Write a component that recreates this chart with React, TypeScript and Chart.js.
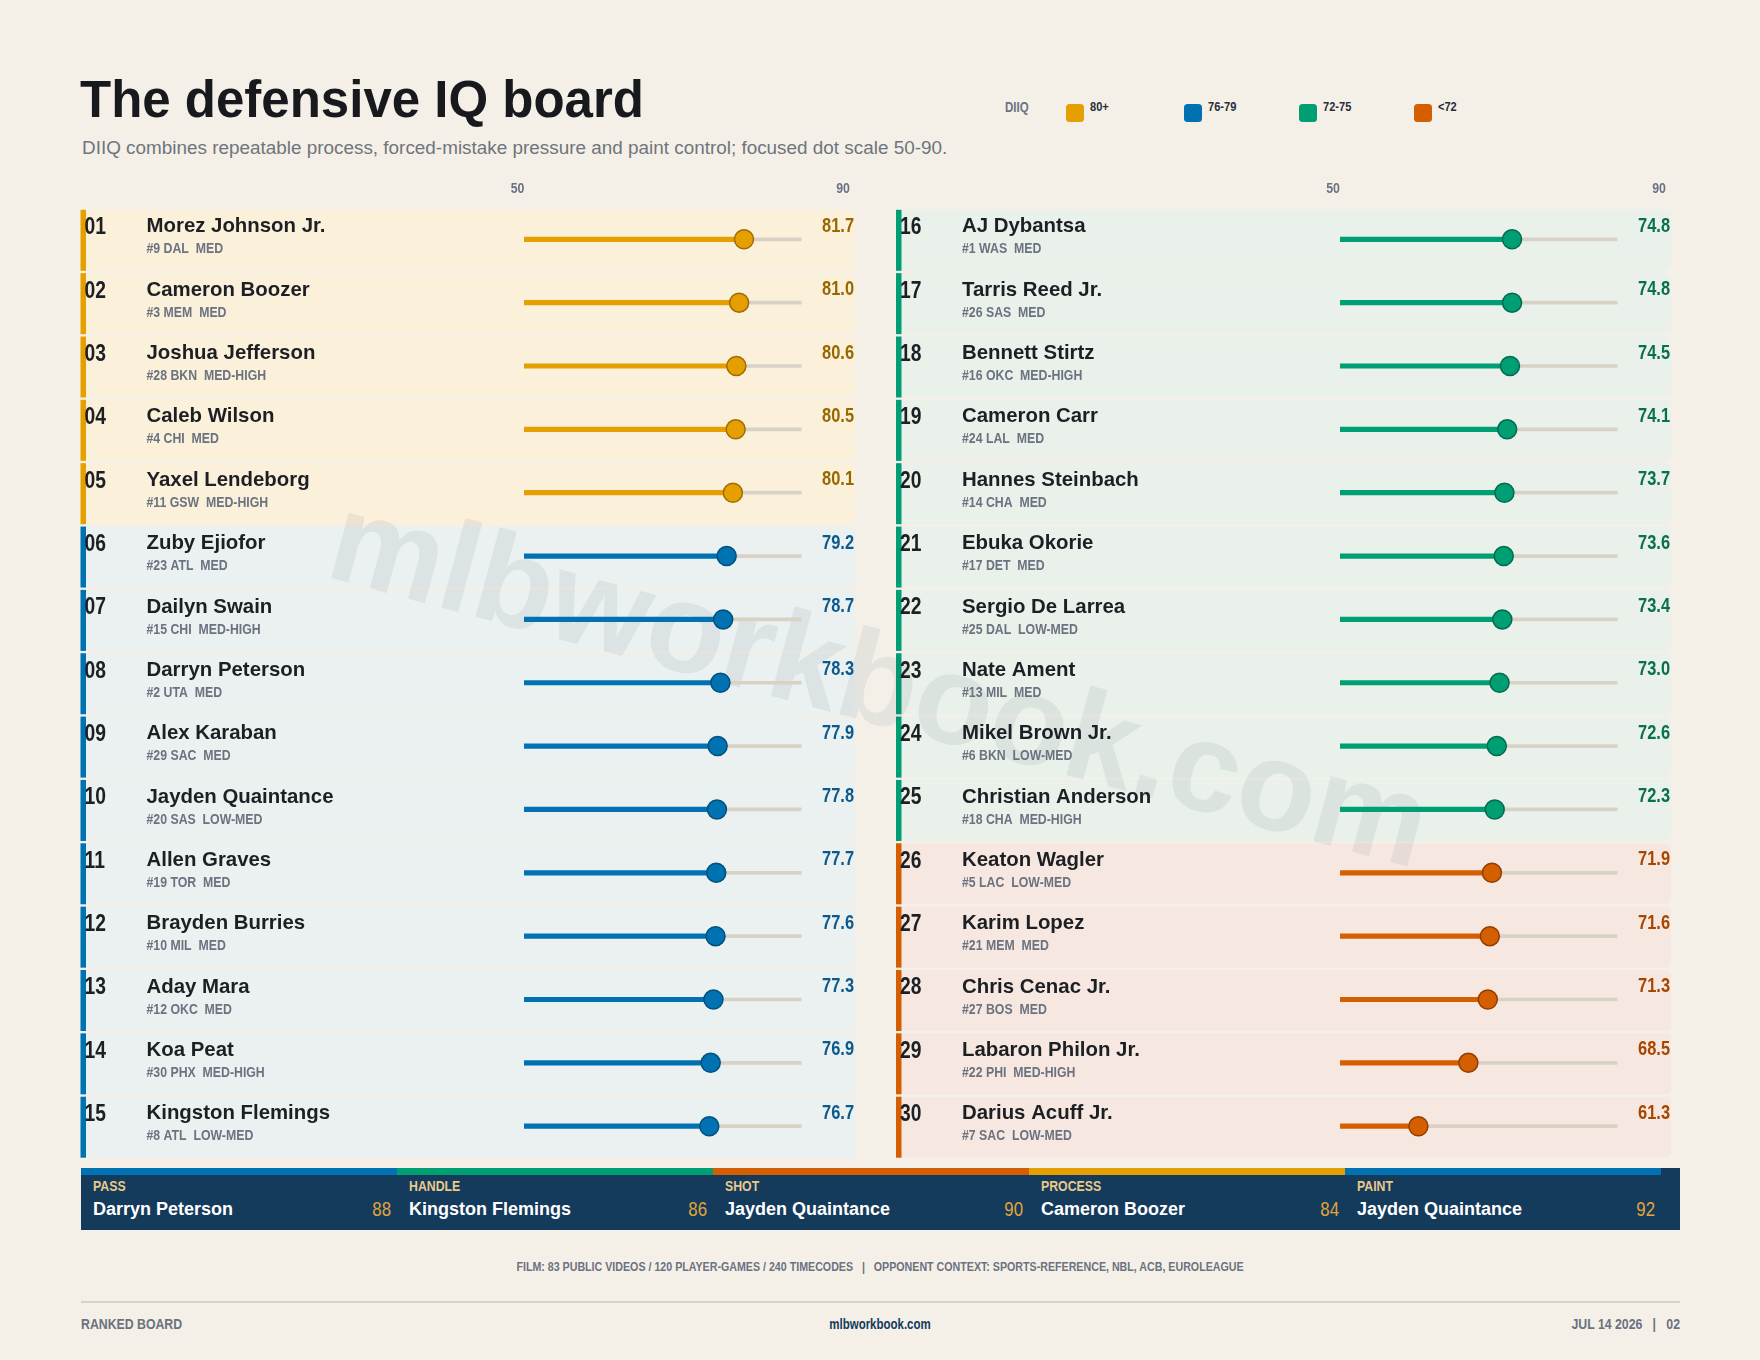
import React, { useEffect, useRef } from "react";
import { Chart, registerables } from "chart.js";

Chart.register(...registerables);

// ---------------- data ----------------
const PLAYERS = [
  "Morez Johnson Jr.", "Cameron Boozer", "Joshua Jefferson", "Caleb Wilson", "Yaxel Lendeborg",
  "Zuby Ejiofor", "Dailyn Swain", "Darryn Peterson", "Alex Karaban", "Jayden Quaintance",
  "Allen Graves", "Brayden Burries", "Aday Mara", "Koa Peat", "Kingston Flemings",
  "AJ Dybantsa", "Tarris Reed Jr.", "Bennett Stirtz", "Cameron Carr", "Hannes Steinbach",
  "Ebuka Okorie", "Sergio De Larrea", "Nate Ament", "Mikel Brown Jr.", "Christian Anderson",
  "Keaton Wagler", "Karim Lopez", "Chris Cenac Jr.", "Labaron Philon Jr.", "Darius Acuff Jr.",
];
const TEAMS = [
  "#9 DAL", "#3 MEM", "#28 BKN", "#4 CHI", "#11 GSW",
  "#23 ATL", "#15 CHI", "#2 UTA", "#29 SAC", "#20 SAS",
  "#19 TOR", "#10 MIL", "#12 OKC", "#30 PHX", "#8 ATL",
  "#1 WAS", "#26 SAS", "#16 OKC", "#24 LAL", "#14 CHA",
  "#17 DET", "#25 DAL", "#13 MIL", "#6 BKN", "#18 CHA",
  "#5 LAC", "#21 MEM", "#27 BOS", "#22 PHI", "#7 SAC",
];
const RISK = [
  "MED", "MED", "MED-HIGH", "MED", "MED-HIGH",
  "MED", "MED-HIGH", "MED", "MED", "LOW-MED",
  "MED", "MED", "MED", "MED-HIGH", "LOW-MED",
  "MED", "MED", "MED-HIGH", "MED", "MED",
  "MED", "LOW-MED", "MED", "LOW-MED", "MED-HIGH",
  "LOW-MED", "MED", "MED", "MED-HIGH", "LOW-MED",
];
const DIIQ = [
  81.7, 81.0, 80.6, 80.5, 80.1,
  79.2, 78.7, 78.3, 77.9, 77.8,
  77.7, 77.6, 77.3, 76.9, 76.7,
  74.8, 74.8, 74.5, 74.1, 73.7,
  73.6, 73.4, 73.0, 72.6, 72.3,
  71.9, 71.6, 71.3, 68.5, 61.3,
];
const SCALE_MIN = 50;
const SCALE_MAX = 90;
const TICK_LABELS = ["50", "90"];

const LEGEND_LABELS = ["80+", "76-79", "72-75", "<72"];
const LEGEND_TIERS = ["gold", "blue", "green", "orange"];

const LEADER_CATS = ["PASS", "HANDLE", "SHOT", "PROCESS", "PAINT"];
const LEADER_NAMES = ["Darryn Peterson", "Kingston Flemings", "Jayden Quaintance", "Cameron Boozer", "Jayden Quaintance"];
const LEADER_VALUES = [88, 86, 90, 84, 92];
const LEADER_TIERS = ["blue", "green", "orange", "gold", "blue"];

// ---------------- style ----------------
const W = 1760;
const H = 1360;
const BG = "#f4f0e8";
const SANS = '"Liberation Sans", Arial, Helvetica, sans-serif';
const NARROW_X = 0.82;
const NAVY = "#143a5c";
const GRAYTXT = "#6b7280";
const INK = "#1c1f24";
const TRACK = "#d8d2c6";

const FILL: Record<string, string> = { gold: "#e69f00", blue: "#0072b2", green: "#009e73", orange: "#d55e00" };
const EDGE: Record<string, string> = { gold: "#a06c00", blue: "#00507e", green: "#006b4e", orange: "#923e00" };
const VTEXT: Record<string, string> = { gold: "#986800", blue: "#0b5a8c", green: "#08704f", orange: "#a84600" };
const BAND: Record<string, string> = { gold: "#fbf0da", blue: "#ebf0f0", green: "#eaf0ea", orange: "#f6e8e0" };

const tier = (v: number) => (v >= 80 ? "gold" : v >= 76 ? "blue" : v >= 72 ? "green" : "orange");

const ROWS = 15;
const ROW_PITCH = 63.35;
const FIRST_CENTER = 239.3;
const AREA_TOP = FIRST_CENTER - ROW_PITCH / 2;
const AREA_BOTTOM = AREA_TOP + ROW_PITCH * ROWS;

const PANELS = [
  { x0: 80.5, x1: 855, trackL: 524, trackR: 801.6, start: 0, tick50: 517.5, tick90: 843 },
  { x0: 896, x1: 1671, trackL: 1340, trackR: 1617.5, start: 15, tick50: 1333, tick90: 1659 },
];

function narrow(ctx: CanvasRenderingContext2D, text: string, x: number, y: number, size: number, align: CanvasTextAlign, color: string, weight = "bold") {
  ctx.save();
  ctx.font = `${weight} ${size}px ${SANS}`;
  ctx.fillStyle = color;
  ctx.textAlign = align;
  ctx.textBaseline = "middle";
  ctx.translate(x, y);
  ctx.scale(NARROW_X, 1);
  ctx.fillText(text, 0, 0);
  ctx.restore();
}

const boardPlugin = {
  id: "board",
  beforeDatasetsDraw(chart: any) {
    const ctx = chart.ctx as CanvasRenderingContext2D;
    const y = chart.scales.y;
    ctx.save();
    // bands
    PANELS.forEach((p) => {
      for (let i = 0; i < ROWS; i++) {
        const idx = p.start + i;
        const t = tier(DIIQ[idx]);
        const c = y.getPixelForValue(i);
        const top = c - 29.5;
        const h = 61;
        ctx.fillStyle = BAND[t];
        ctx.beginPath();
        (ctx as any).roundRect(p.x0, top, p.x1 - p.x0, h, [0, 6, 6, 0]);
        ctx.fill();
        ctx.fillStyle = FILL[t];
        ctx.fillRect(p.x0, top, 5.5, h);
      }
    });
    // watermark
    ctx.save();
    ctx.translate(878, 688);
    ctx.rotate((15 * Math.PI) / 180);
    ctx.font = `bold 128px ${SANS}`;
    ctx.fillStyle = "rgba(40,70,100,0.075)";
    ctx.textAlign = "center";
    ctx.textBaseline = "middle";
    ctx.fillText("mlbworkbook.com", 0, 0);
    ctx.restore();
    // tick labels
    PANELS.forEach((p) => {
      narrow(ctx, TICK_LABELS[0], p.tick50, 188.5, 15, "center", GRAYTXT);
      narrow(ctx, TICK_LABELS[1], p.tick90, 188.5, 15, "center", GRAYTXT);
    });
    // row text
    PANELS.forEach((p) => {
      for (let i = 0; i < ROWS; i++) {
        const idx = p.start + i;
        const t = tier(DIIQ[idx]);
        const c = y.getPixelForValue(i);
        narrow(ctx, String(idx + 1).padStart(2, "0"), p.x0 + 4, c - 11.5, 23.5, "left", INK);
        ctx.textBaseline = "middle";
        ctx.textAlign = "left";
        ctx.fillStyle = INK;
        ctx.font = `bold 20.4px ${SANS}`;
        ctx.fillText(PLAYERS[idx], p.x0 + 66, c - 12.5);
        narrow(ctx, `${TEAMS[idx]}  ${RISK[idx]}`, p.x0 + 66, c + 10, 15, "left", GRAYTXT);
        narrow(ctx, DIIQ[idx].toFixed(1), p.x1 - 1, c - 13, 20, "right", VTEXT[t]);
      }
    });
    ctx.restore();
  },
};

function makeConfig(p: (typeof PANELS)[number], base: boolean): any {
  const vals = DIIQ.slice(p.start, p.start + ROWS);
  const labels = PLAYERS.slice(p.start, p.start + ROWS);
  return {
    type: "bar",
    data: {
      labels,
      datasets: [
        {
          label: "scale",
          data: vals.map(() => [SCALE_MIN, SCALE_MAX]),
          backgroundColor: TRACK,
          barThickness: 3,
          grouped: false,
          order: 3,
        },
        {
          label: "DIIQ bar",
          data: vals.map((v) => [SCALE_MIN, v]),
          backgroundColor: vals.map((v) => FILL[tier(v)]),
          barThickness: 4.5,
          grouped: false,
          order: 2,
        },
        {
          type: "line",
          label: "DIIQ",
          indexAxis: "y",
          data: vals,
          showLine: false,
          clip: false,
          pointRadius: 9.5,
          pointBorderWidth: 1.5,
          pointBackgroundColor: vals.map((v) => FILL[tier(v)]),
          pointBorderColor: vals.map((v) => EDGE[tier(v)]),
          order: 1,
        },
      ],
    },
    options: {
      indexAxis: "y",
      responsive: false,
      animation: false,
      events: [],
      layout: {
        padding: { left: p.trackL, right: W - p.trackR, top: AREA_TOP, bottom: H - AREA_BOTTOM },
      },
      scales: {
        x: { type: "linear", min: SCALE_MIN, max: SCALE_MAX, display: false },
        y: { type: "category", display: false, offset: true },
      },
      plugins: { legend: { display: false }, tooltip: { enabled: false } },
    },
    plugins: base ? [boardPlugin] : [],
  };
}

const abs = (s: React.CSSProperties): React.CSSProperties => ({ position: "absolute", whiteSpace: "pre", lineHeight: 1, ...s });
const nar = (origin: string, s: React.CSSProperties): React.CSSProperties =>
  abs({ fontWeight: 700, transform: `scaleX(${NARROW_X})`, transformOrigin: origin, ...s });

export default function App() {
  const refA = useRef<HTMLCanvasElement>(null);
  const refB = useRef<HTMLCanvasElement>(null);

  useEffect(() => {
    const charts = [refA, refB].map((r, k) => new Chart(r.current as HTMLCanvasElement, makeConfig(PANELS[k], k === 0)));
    return () => charts.forEach((c) => c.destroy());
  }, []);

  const legendX = [1066, 1184, 1299, 1414];
  const segW = 316;

  return (
    <div style={{ position: "absolute", left: 0, top: 0, width: W, height: H, background: BG, overflow: "hidden", fontFamily: SANS }}>
      <div style={abs({ left: 80, top: 74, fontSize: 51, fontWeight: 700, color: "#17191d" })}>The defensive IQ board</div>
      <div style={abs({ left: 82, top: 139, fontSize: 18.9, color: "#70747c" })}>
        DIIQ combines repeatable process, forced-mistake pressure and paint control; focused dot scale 50-90.
      </div>
      <div style={nar("left", { left: 1005, top: 100, fontSize: 14, color: GRAYTXT })}>DIIQ</div>
      {LEGEND_LABELS.map((l, i) => (
        <React.Fragment key={l}>
          <div style={{ position: "absolute", left: legendX[i], top: 104, width: 18, height: 18, borderRadius: 3.5, background: FILL[LEGEND_TIERS[i]] }} />
          <div style={nar("left", { left: legendX[i] + 24, top: 99.5, fontSize: 13.5, color: "#2a2e35" })}>{l}</div>
        </React.Fragment>
      ))}

      {/* leaders bar */}
      <div style={{ position: "absolute", left: 81, top: 1168, width: 1599, height: 62, background: NAVY }} />
      {LEADER_CATS.map((c, i) => {
        const x = 81 + i * segW;
        return (
          <React.Fragment key={c}>
            <div style={{ position: "absolute", left: x, top: 1168, width: segW, height: 7, background: FILL[LEADER_TIERS[i]] }} />
            <div style={nar("left", { left: x + 12, top: 1178, fontSize: 15, color: "#e8c98a" })}>{c}</div>
            <div style={abs({ left: x + 12, top: 1200, fontSize: 18, fontWeight: 700, color: "#ffffff" })}>{LEADER_NAMES[i]}</div>
            <div style={nar("right", { left: x, width: segW - 6, textAlign: "right", top: 1198.5, fontSize: 20.5, fontWeight: 400, color: "#e3a53a" })}>
              {String(LEADER_VALUES[i])}
            </div>
          </React.Fragment>
        );
      })}

      {/* footer */}
      <div style={nar("center", { left: 0, width: W, textAlign: "center", top: 1259.5, fontSize: 13, color: GRAYTXT })}>
        {"FILM: 83 PUBLIC VIDEOS / 120 PLAYER-GAMES / 240 TIMECODES   |   OPPONENT CONTEXT: SPORTS-REFERENCE, NBL, ACB, EUROLEAGUE"}
      </div>
      <div style={{ position: "absolute", left: 81, top: 1301, width: 1599, height: 1.5, background: "#d8d2c4" }} />
      <div style={nar("left", { left: 81, top: 1316, fontSize: 15, color: GRAYTXT })}>RANKED BOARD</div>
      <div style={nar("center", { left: 0, width: W, textAlign: "center", top: 1316.5, fontSize: 14, color: NAVY })}>mlbworkbook.com</div>
      <div style={nar("right", { left: 1000, width: 680, textAlign: "right", top: 1316, fontSize: 15, color: GRAYTXT })}>
        {"JUL 14 2026   |   02"}
      </div>

      <canvas ref={refA} width={W} height={H} style={{ position: "absolute", left: 0, top: 0, width: W, height: H }} />
      <canvas ref={refB} width={W} height={H} style={{ position: "absolute", left: 0, top: 0, width: W, height: H }} />
    </div>
  );
}
